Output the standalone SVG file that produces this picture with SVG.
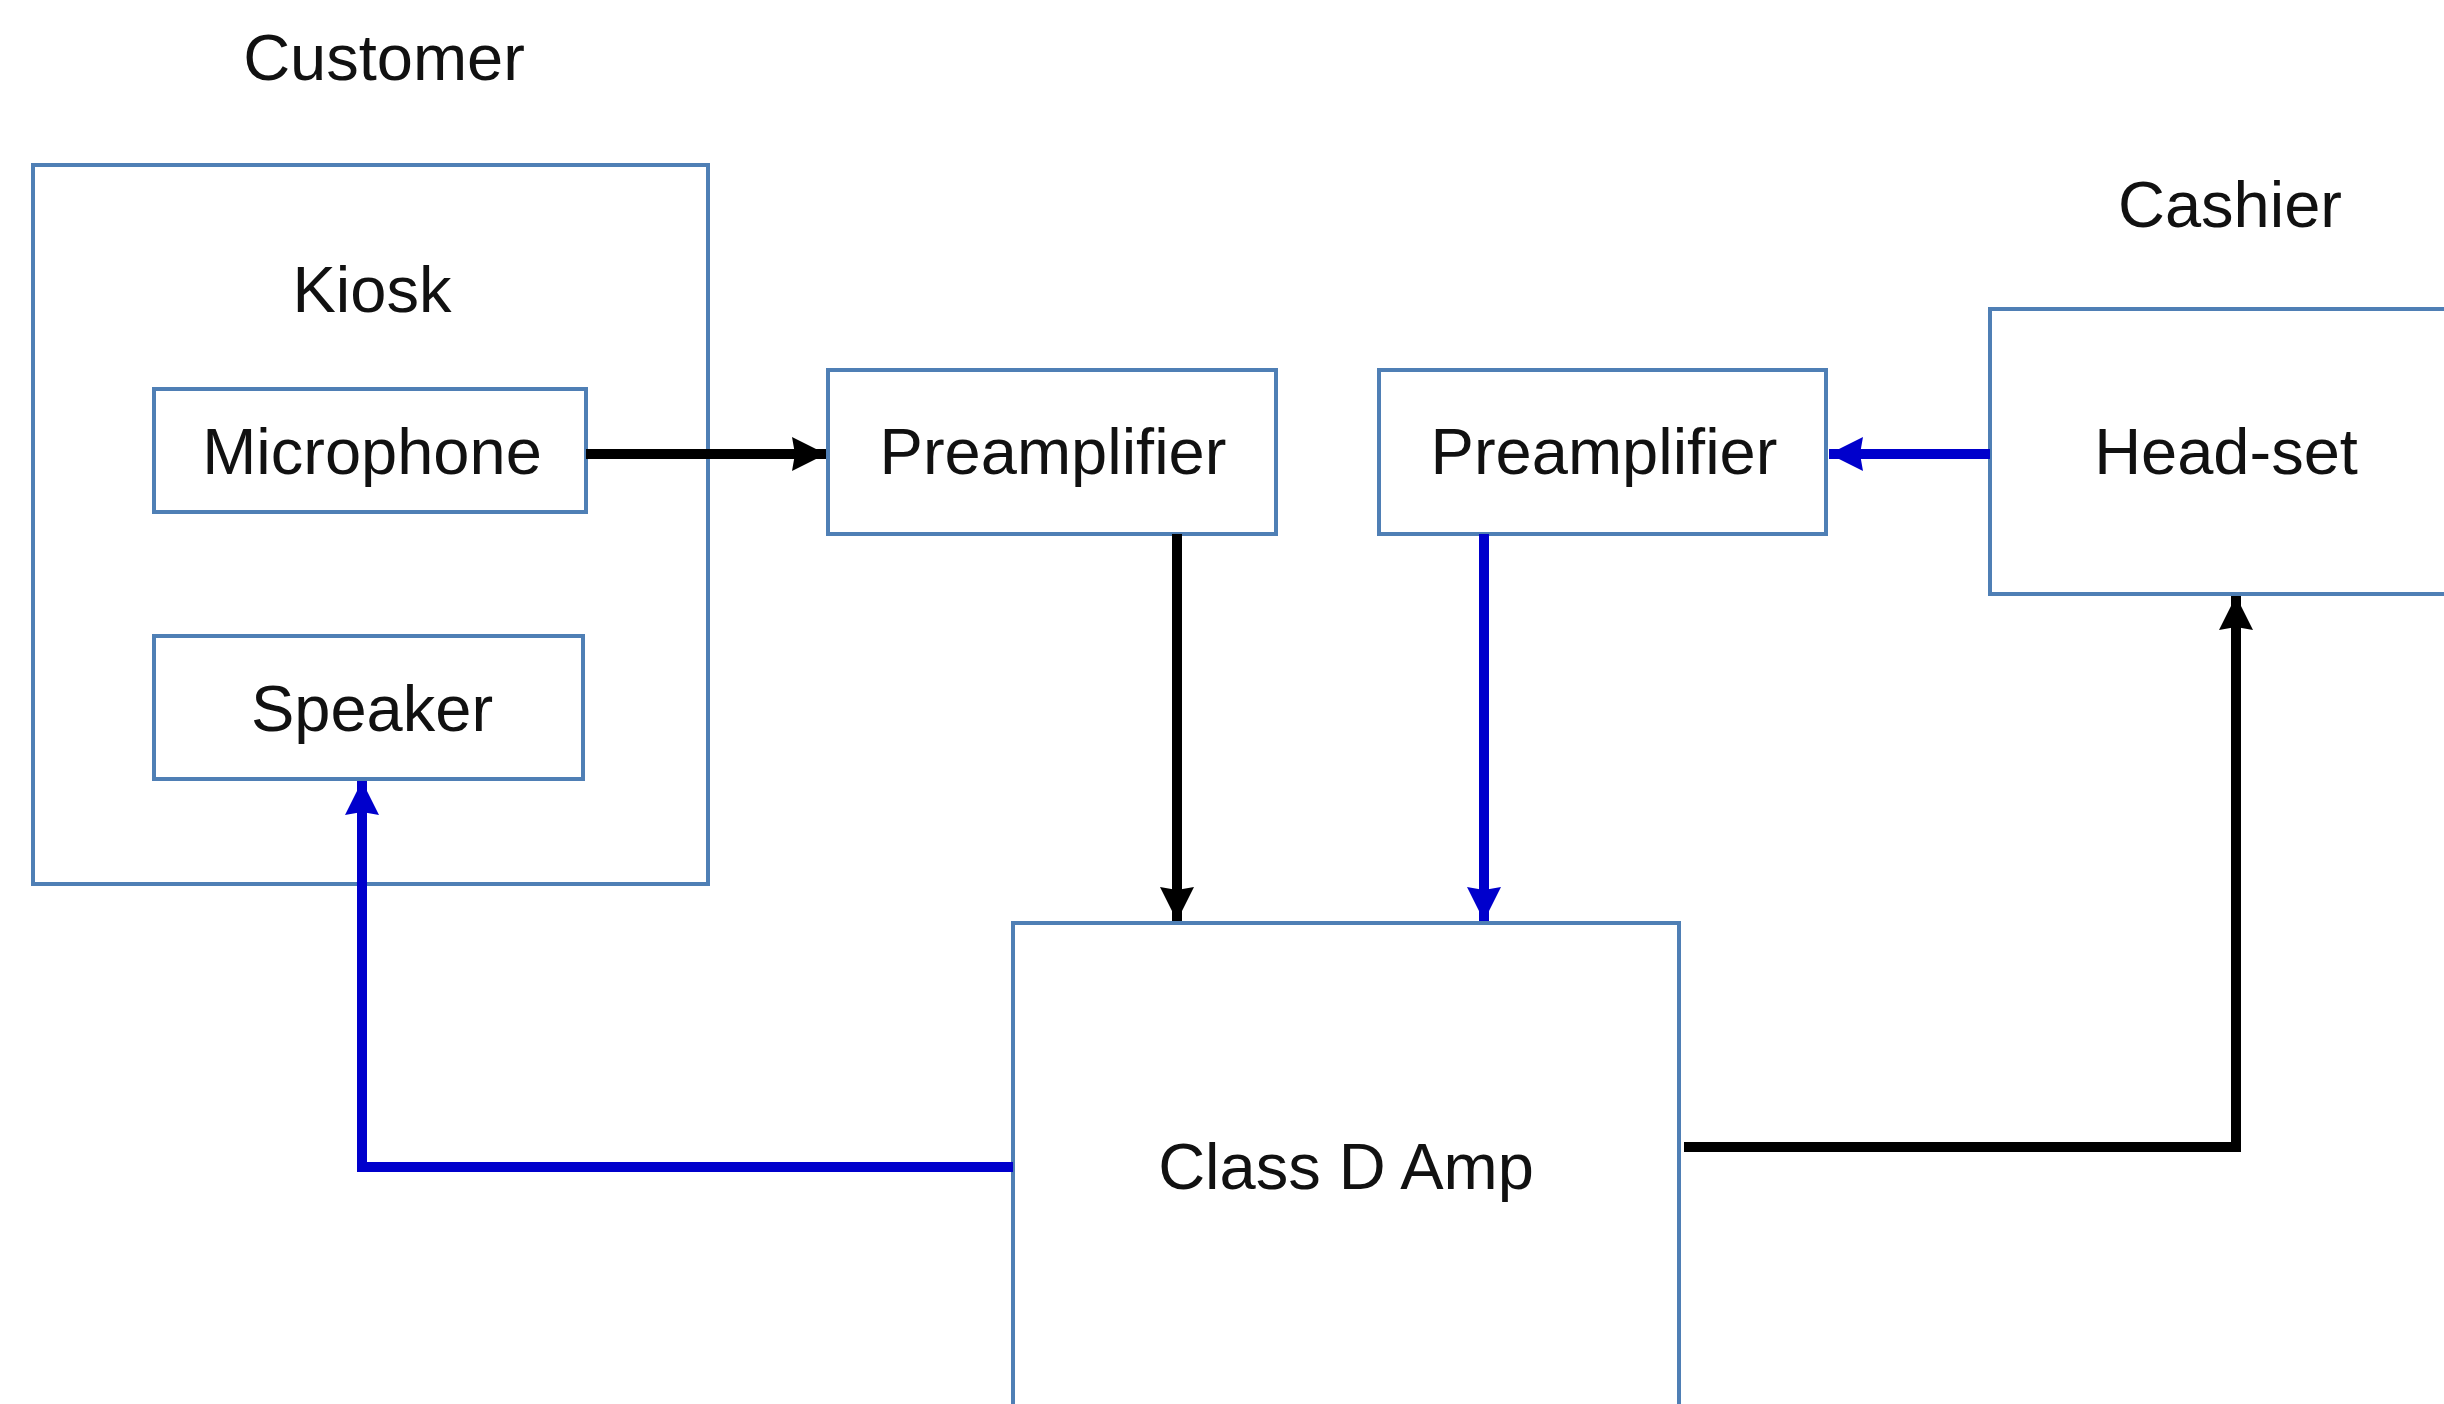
<svg xmlns="http://www.w3.org/2000/svg" width="2444" height="1404" viewBox="0 0 2444 1404">
<style>
.box{fill:#ffffff;stroke:#4f7fb5;stroke-width:4}
.lbl{font-family:"Liberation Sans",Arial,sans-serif;font-size:65px;fill:#111111;text-anchor:middle}
.k{fill:none;stroke:#000000;stroke-width:10}
.b{fill:none;stroke:#0000cc;stroke-width:10}
</style>
<defs>
<marker id="ak" markerUnits="userSpaceOnUse" markerWidth="36" markerHeight="36" viewBox="0 0 34 36" refX="34" refY="18" orient="auto"><path d="M0,1 L34,18 L0,35 L3,18 Z" fill="#000000"/></marker>
<marker id="ab" markerUnits="userSpaceOnUse" markerWidth="36" markerHeight="36" viewBox="0 0 34 36" refX="34" refY="18" orient="auto"><path d="M0,1 L34,18 L0,35 L3,18 Z" fill="#0000cc"/></marker>
</defs>
<rect width="2444" height="1404" fill="#ffffff"/>
<text class="lbl" x="384" y="80">Customer</text>
<text class="lbl" x="2230" y="227">Cashier</text>
<g id="kiosk">
<rect class="box" x="33" y="165" width="675" height="719"/>
<text class="lbl" x="372" y="312">Kiosk</text>
</g>
<g id="microphone">
<rect class="box" x="154" y="389" width="432" height="123"/>
<text class="lbl" x="372" y="474">Microphone</text>
</g>
<g id="speaker">
<rect class="box" x="154" y="636" width="429" height="143"/>
<text class="lbl" x="372" y="731">Speaker</text>
</g>
<g id="preamp1">
<rect class="box" x="828" y="370" width="448" height="164"/>
<text class="lbl" x="1053" y="474">Preamplifier</text>
</g>
<g id="preamp2">
<rect class="box" x="1379" y="370" width="447" height="164"/>
<text class="lbl" x="1604" y="474">Preamplifier</text>
</g>
<g id="headset">
<rect class="box" x="1990" y="309" width="470" height="285"/>
<text class="lbl" x="2226" y="474">Head-set</text>
</g>
<g id="classd">
<rect class="box" x="1013" y="923" width="666" height="500"/>
<text class="lbl" x="1346" y="1189">Class D Amp</text>
</g>
<g id="connectors">
<path class="k" d="M586,454 H826" marker-end="url(#ak)"/>
<path class="b" d="M1990,454 H1829" marker-end="url(#ab)"/>
<path class="k" d="M1177,534 V921" marker-end="url(#ak)"/>
<path class="b" d="M1484,534 V921" marker-end="url(#ab)"/>
<path class="b" d="M1013,1167 H362 V781" marker-end="url(#ab)"/>
<path class="k" d="M1684,1147 H2236 V596" marker-end="url(#ak)"/>
</g>
</svg>
